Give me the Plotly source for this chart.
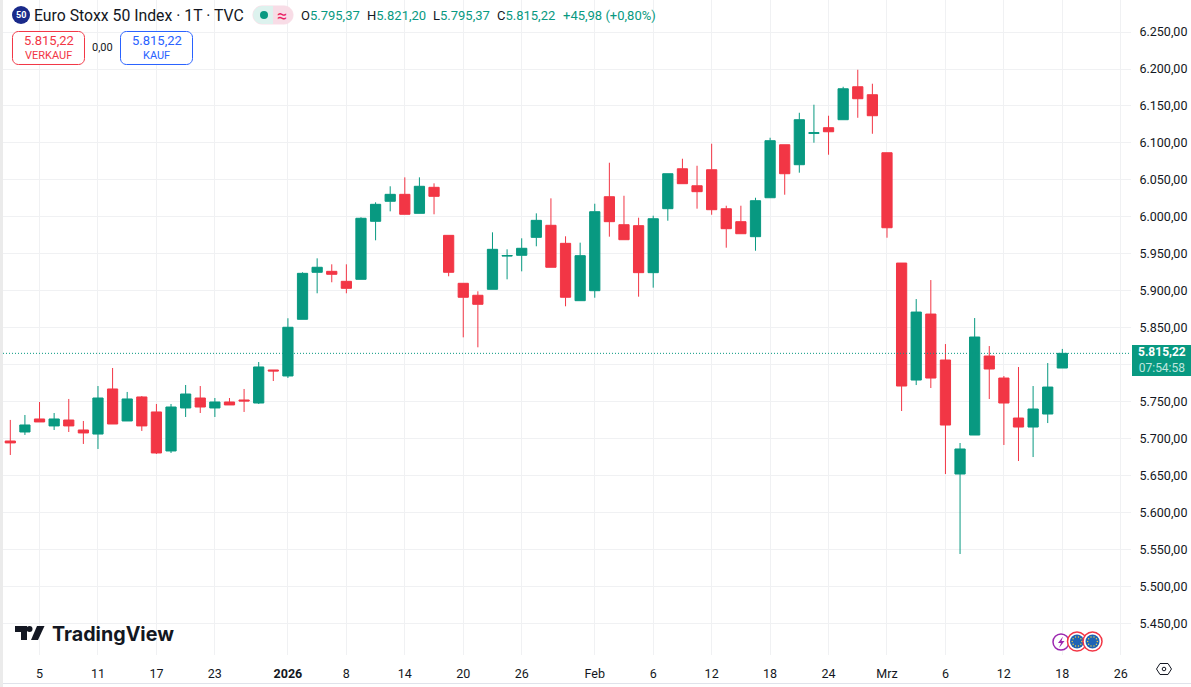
import plotly.graph_objects as go
import math

opens = [5696.6,5708.8,5726.4,5717,5725,5711.5,5706,5767,5723.7,5756.2,5735.9,5683.1,5741.3,5754.8,5741.3,5749.4,5752.1,5748,5792.7,5784.6,
         5861.3,5924.9,5926.2,5912.7,5915.4,5993.9,6021,6030.4,6004.7,6039.9,5974.9,5910,5893.8,5901.9,5946.9,5947.9,5972.2,5988.5,5964.1,5886.5,
         5900,6027.2,5989.3,5988,5924.4,6011,6065,6042,6063.7,6010.9,5993.4,5973.1,6025.8,6097.5,6070.5,6112.9,6120.6,6131.4,6176,6165.2,
         6086.7,5937.4,5779.1,5868.4,5806.2,5651.9,5704.7,5811.6,5781.8,5727.7,5715.5,5733.1,5795.37]
highs = [5725.1,5731.8,5749.4,5734.5,5753.5,5723.7,5771,5795.4,5763,5757.5,5746.7,5746.7,5772.4,5771,5754.8,5754.8,5767,5803.5,5792.7,5862.7,
         5924.9,5943.8,5935.7,5935.7,5999.3,6019.6,6041.3,6053.4,6053.4,6045.3,5974.9,5910,5899.2,5979,5956,5970.9,6004.7,6025,5973.6,5965,
         6017.7,6073.2,6028.5,5998.8,6001.5,6058.3,6078.6,6069.1,6098.9,6015,6015,6025.8,6107,6097.5,6140.8,6151.7,6136.8,6176,6199,6180.1,
         6086.7,5937.4,5888.7,5914.4,5827.8,5693.9,5863,5825.1,5784.5,5796.7,5771,5802.1,5821.20]
lows = [5677.7,5704.8,5722.4,5711.5,5708.8,5692.6,5685.8,5719.6,5723.7,5710.2,5679,5680.4,5729.1,5734.5,5729.1,5745.4,5735.9,5746.7,5777.8,5781.9,
        5861.3,5896.5,5911.4,5896.5,5915.4,5968.2,6007.4,6003.4,6004.7,6003.4,5919.5,5836.9,5823.4,5901.9,5915.4,5926.2,5960.1,5931.7,5878.9,5886.5,
        5890.5,5973.1,5969,5891.9,5904.1,5994.7,6044.8,6011,6002.8,5958.2,5977.1,5954.1,6025.8,6029.9,6059.7,6100.3,6084,6131.4,6134,6112.4,
        5971.7,5737.2,5772.3,5768.3,5651.9,5543.7,5704.7,5753.4,5691.2,5669.5,5674.9,5720.9,5795.37]
closes = [5694,5718.3,5722.4,5726.4,5717,5707.5,5754.8,5719.6,5753.5,5717,5680.4,5742.6,5760.2,5742.6,5749.4,5745.4,5750.8,5796.8,5791.4,5850.5,
          5923.5,5931.7,5922.2,5903.2,5998,6016.9,6030.4,6003.4,6041.3,6027.7,5924.9,5891.1,5881.6,5956,5947.5,5957.4,5995.2,5931.7,5891.1,5947.4,
          6006.9,5993.4,5969,5924.4,5997.4,6058.3,6044.8,6034,6009.6,5983.9,5977.1,6021.8,6103,6058.3,6131.4,6113.8,6115.1,6173.3,6159.8,6136.8,
          5985.2,5771,5871.1,5781.8,5718.2,5685.8,5837.3,5794,5748,5715.5,5739.9,5769.6,5815.22]
bar_index = list(range(len(opens)))

tick_index = [2,6,10,14,19,23,27,31,35,40,44,48,52,56,60,64,68,72,76]
tick_text = ["5","11","17","23","<b>2026</b>","8","14","20","26","Feb","6","12","18","24","Mrz","6","12","18","26"]
price_ticks = [6250,6200,6150,6100,6050,6000,5950,5900,5850,5800,5750,5700,5650,5600,5550,5500,5450]
# The 5.800,00 label sits behind the last-price tag in the reference, so it stays blank.
price_labels = ["6.250,00","6.200,00","6.150,00","6.100,00","6.050,00","6.000,00","5.950,00","5.900,00","5.850,00","",
                "5.750,00","5.700,00","5.650,00","5.600,00","5.550,00","5.500,00","5.450,00"]
last_price = 5815.22

W, H = 1191, 687
L, R, T, B = 3, 1131, 0, 655
GREEN, RED, BLUE, INK = "#089981", "#F23645", "#2962FF", "#131722"
FONT = "Roboto"

def px(x): return (x - L) / (R - L)
def py(y): return (B - y) / (B - T)

shapes, anns = [], []

def rect(x0, y0, x1, y1, fill, line=None, lw=0):
    shapes.append(dict(type="rect", xref="paper", yref="paper", x0=px(x0), x1=px(x1), y0=py(y0), y1=py(y1),
                       fillcolor=fill, line=dict(color=line or fill, width=lw), layer="above"))

def poly(points, fill=None, line=None, lw=0, close=True):
    d = "M" + " L".join(f"{px(a):.5f},{py(b):.5f}" for a, b in points) + (" Z" if close else "")
    shapes.append(dict(type="path", xref="paper", yref="paper", path=d, fillcolor=fill or "rgba(0,0,0,0)",
                       line=dict(color=line or "rgba(0,0,0,0)", width=lw), layer="above"))

def circle(cx, cy, r, fill, line=None, lw=0):
    shapes.append(dict(type="circle", xref="paper", yref="paper", x0=px(cx-r), x1=px(cx+r), y0=py(cy+r), y1=py(cy-r),
                       fillcolor=fill, line=dict(color=line or "rgba(0,0,0,0)", width=lw), layer="above"))

def rrect(x0, y0, x1, y1, r, fill, line):
    pts = []
    for cx, cy, a0 in [(x1-r, y0+r, -90), (x1-r, y1-r, 0), (x0+r, y1-r, 90), (x0+r, y0+r, 180)]:
        for k in range(7):
            a = math.radians(a0 + 15*k)
            pts.append((cx + r*math.cos(a), cy + r*math.sin(a)))
    poly(pts, fill, line, 1)

def text(x, y, s, size=12, color=INK, anchor="left", font=FONT):
    anns.append(dict(xref="paper", yref="paper", x=px(x), y=py(y), text=s, showarrow=False, xanchor=anchor,
                     yanchor="middle", borderpad=0, borderwidth=0, font=dict(size=size, color=color, family=font)))

# left strip and bottom rule
rect(0, 0, 3, 687, "#EBEBEB")
rect(3, 683, 1191, 684, "#E0E3EB")

# header
circle(21, 15, 9, "#1A2A8A")
text(21, 15.5, "<b>50</b>", 9, "#FFFFFF", "center")
text(34, 15, "Euro Stoxx 50 Index · 1T · TVC", 15.8)
rrect(253, 6, 293, 24, 9, "#F8DCE6", "#F8DCE6")
circle(262, 15, 9, "#DDF2EE")
rect(262, 6, 273, 24, "#DDF2EE")
circle(264, 15, 4, GREEN)
text(282, 15, "≈", 18, "#E91E63", "center")
for x, label, val in [(301, "O", "5.795,37"), (367, "H", "5.821,20"), (433, "L", "5.795,37"), (497, "C", "5.815,22")]:
    text(x, 15, f"{label}<span style='color:{GREEN}'>{val}</span>", 13)
text(563, 15, "+45,98 (+0,80%)", 13, GREEN)

# buy / sell boxes
rrect(12.5, 31.5, 84.5, 64.5, 6, "#FFFFFF", RED)
text(48.5, 41, "5.815,22", 13, RED, "center")
text(48.5, 55, "VERKAUF", 11, RED, "center")
text(102.5, 47.5, "0,00", 11, INK, "center")
rrect(120.5, 31.5, 192.5, 64.5, 6, "#FFFFFF", BLUE)
text(156.5, 41, "5.815,22", 13, BLUE, "center")
text(156.5, 55, "KAUF", 11, BLUE, "center")

# TradingView logo
poly([(15,626),(27,626),(27,640),(21,640),(21,632),(15,632)], "#131722")
circle(29.5, 629, 3, "#131722")
poly([(37,626),(44.5,626),(38,640),(31,640)], "#131722")
text(52, 634, "<b>TradingView</b>", 19.7, "#131722", font="Inter")

# last price tag
rect(1132, 345, 1191, 376, GREEN)
text(1161.5, 360, "<b>5.815,22</b><br><span style='color:#BFE6DF'>07:54:58</span>", 12, "#FFFFFF", "center")

# event icons
circle(1061, 642, 8, "#FFFFFF", "#9C27B0", 1.5)
poly([(1063,636.5),(1058,643),(1061,643),(1059,648),(1064.5,641),(1061.5,641)], "#9C27B0")
for cx in (1077, 1092.5):
    circle(cx, 641.5, 9.5, "#FFFFFF", RED, 1.5)
    circle(cx, 641.5, 7, "#1E63B5")
    for k in range(10):
        a = 2*math.pi*k/10
        circle(cx + 4.8*math.cos(a), 641.5 + 4.8*math.sin(a), 0.7, "#F4D03F")

# settings icon
poly([(1156.5,669),(1160,663.5),(1168,663.5),(1171.5,669),(1168,674.5),(1160,674.5)], None, INK, 1)
circle(1164, 669, 1.8, "#FFFFFF", INK, 1)

fig = go.Figure(go.Candlestick(
    x=bar_index, open=opens, high=highs, low=lows, close=closes,
    increasing=dict(line=dict(color=GREEN, width=1), fillcolor=GREEN),
    decreasing=dict(line=dict(color=RED, width=1), fillcolor=RED),
    whiskerwidth=0, showlegend=False, name="Euro Stoxx 50 Index"))

# last price line
shapes.append(dict(type="line", xref="paper", yref="y", x0=0, x1=1, y0=last_price, y1=last_price,
                   line=dict(color=GREEN, width=1, dash="1px,2px"), layer="above"))

fig.update_layout(
    width=W, height=H, autosize=False,
    margin=dict(l=L, r=W-R, t=T, b=H-B, pad=0),
    paper_bgcolor="#FFFFFF", plot_bgcolor="#FFFFFF",
    separators=",.", showlegend=False, boxmode="overlay", boxgap=0.3, boxgroupgap=0,
    font=dict(family=FONT, size=12, color=INK),
    shapes=shapes, annotations=anns,
    xaxis=dict(type="linear", range=[-0.5, 76.7], rangeslider=dict(visible=False), tickmode="array",
               tickvals=tick_index, ticktext=tick_text, showgrid=True, gridcolor="#F0F1F3", gridwidth=1,
               zeroline=False, showline=False, ticks="outside", ticklen=7, tickcolor="rgba(0,0,0,0)",
               tickfont=dict(family=FONT, size=12.5, color=INK)),
    yaxis=dict(side="right", range=[5407, 6293.4], tickmode="array", tickvals=price_ticks, ticktext=price_labels,
               showgrid=True, gridcolor="#F0F1F3", gridwidth=1, zeroline=False, showline=False, ticks="outside",
               ticklen=5, tickcolor="rgba(0,0,0,0)", tickfont=dict(family=FONT, size=12.5, color=INK)),
)

fig.write_html("out.html", config=dict(displayModeBar=False),
               post_script="document.body.style.margin='0';document.body.style.overflow='hidden';")
